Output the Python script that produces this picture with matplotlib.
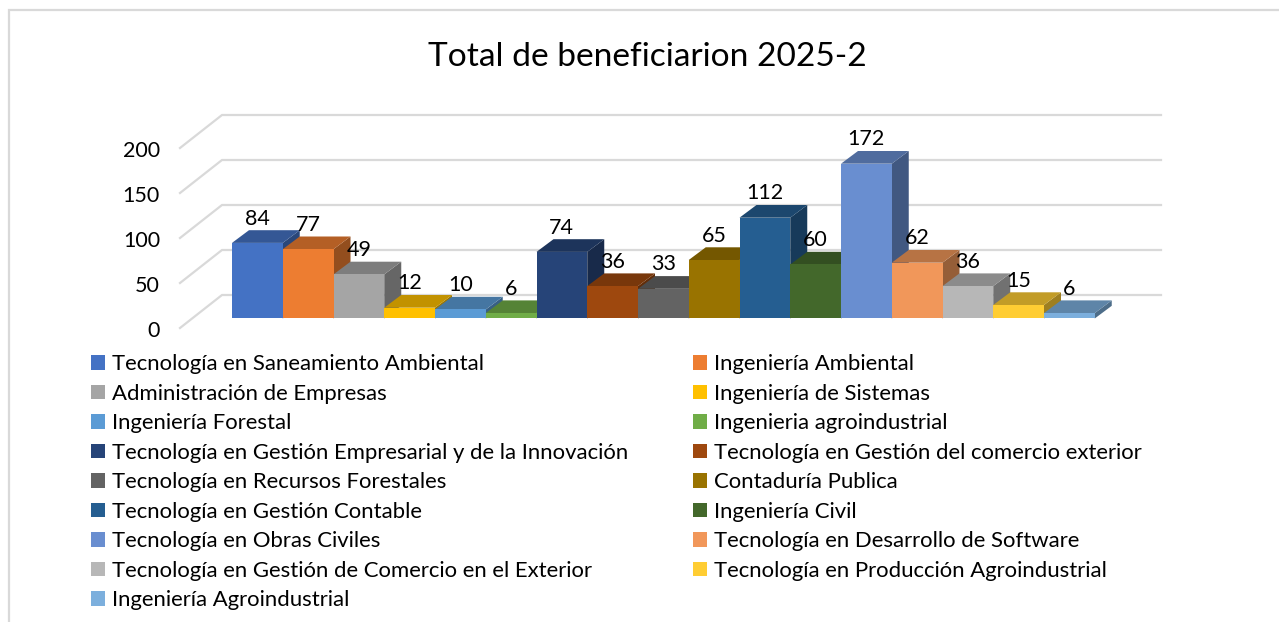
import matplotlib
matplotlib.use('Agg')
import matplotlib.pyplot as plt
from matplotlib.patches import Polygon, Rectangle

programas = ['Tecnología en Saneamiento Ambiental', 'Ingeniería Ambiental',
             'Administración de Empresas', 'Ingeniería de Sistemas',
             'Ingeniería Forestal', 'Ingenieria agroindustrial',
             'Tecnología en Gestión Empresarial y de la Innovación',
             'Tecnología en Gestión del comercio exterior',
             'Tecnología en Recursos Forestales', 'Contaduría Publica',
             'Tecnología en Gestión Contable', 'Ingeniería Civil',
             'Tecnología en Obras Civiles', 'Tecnología en Desarrollo de Software',
             'Tecnología en Gestión de Comercio en el Exterior',
             'Tecnología en Producción Agroindustrial', 'Ingeniería Agroindustrial']
beneficiarios = [84, 77, 49, 12, 10, 6, 74, 36, 33, 65, 112, 60, 172, 62, 36, 15, 6]
colores = ['#4472C4', '#ED7D31', '#A5A5A5', '#FFC000', '#5B9BD5', '#70AD47',
           '#264478', '#9E480E', '#636363', '#997300', '#255E91', '#43682B',
           '#698ED0', '#F1975A', '#B7B7B7', '#FFCD33', '#7CAFDD']
y_ticks = [0, 50, 100, 150, 200]

W, H = 1279, 622
plt.rcParams['font.family'] = ['Lato', 'DejaVu Sans']

fig = plt.figure(figsize=(W / 100, H / 100), dpi=100)
ax = fig.add_axes([0, 0, 1, 1])
ax.axis('off')

# one unit in x is one bar, y stays in data units
bar_w = 50.75
px_y = 0.9
x0, y0 = 232, 318.5
ax.set_xlim(-x0 / bar_w, (W - x0) / bar_w)
ax.set_ylim((y0 - H) / px_y, y0 / px_y)

# depth of the fake 3d bars
dx = 17 / bar_w
dy = 12.7 / px_y


def px(x, y):
    return (x - x0) / bar_w, (y0 - y) / px_y


def shade(c, f):
    rgb = matplotlib.colors.to_rgb(c)
    return tuple(v * f for v in rgb)


# marco: only top and left are visible
ax.plot(*zip(px(9, H), px(9, 10), px(W, 10)), color='#D9D9D9', lw=1.6,
        solid_joinstyle='miter', zorder=1)

# rejilla: back wall and left wall
x_left, x_back, x_right = px(180, 0)[0], px(222, 0)[0], px(1161, 0)[0]
off_front, off_back = px(0, 328)[1], px(0, 295)[1]
for t in y_ticks:
    ax.plot([x_left, x_back, x_right], [t + off_front, t + off_back, t + off_back],
            color='#D9D9D9', lw=1.6, zorder=1, solid_joinstyle='miter')
    ax.text(px(160, 0)[0], t + off_front - 3, str(t), ha='right', va='center',
            fontsize=15.5, color='black')

# barras
for i, v in enumerate(beneficiarios):
    c = colores[i]
    z = 2 + i
    ax.add_patch(Polygon([(i + 1, 0), (i + 1 + dx, dy), (i + 1 + dx, v + dy), (i + 1, v)],
                         fc=shade(c, 0.62), ec='none', zorder=z))
    ax.add_patch(Polygon([(i, v), (i + dx, v + dy), (i + 1 + dx, v + dy), (i + 1, v)],
                         fc=shade(c, 0.76), ec='none', zorder=z))
    ax.bar(i, v, width=1, align='edge', color=c, zorder=z)
    ax.text(i + 0.5, v + 27, str(v), ha='center', va='center', fontsize=15.5,
            color='black', zorder=50)

ax.text(px(647, 0)[0], px(0, 57)[1], 'Total de beneficiarion 2025-2', ha='center',
        va='center', fontsize=24.1, color='black', zorder=50)

# legend is filled by columns, the reference reads by rows
orden = list(range(0, 17, 2)) + list(range(1, 17, 2))
handles = [Rectangle((0, 0), 1, 1, fc=colores[i]) for i in orden]
labels = [programas[i] for i in orden]
ax.legend(handles, labels, ncols=2, loc='upper left', bbox_to_anchor=(84 / W, 1 - 347.5 / H),
          frameon=False, fontsize=15.9, handlelength=0.63, handleheight=0.63,
          handletextpad=0.32, labelspacing=0.43, columnspacing=2.94, borderpad=0.3,
          borderaxespad=0)

fig.savefig('out.png', dpi=100)
